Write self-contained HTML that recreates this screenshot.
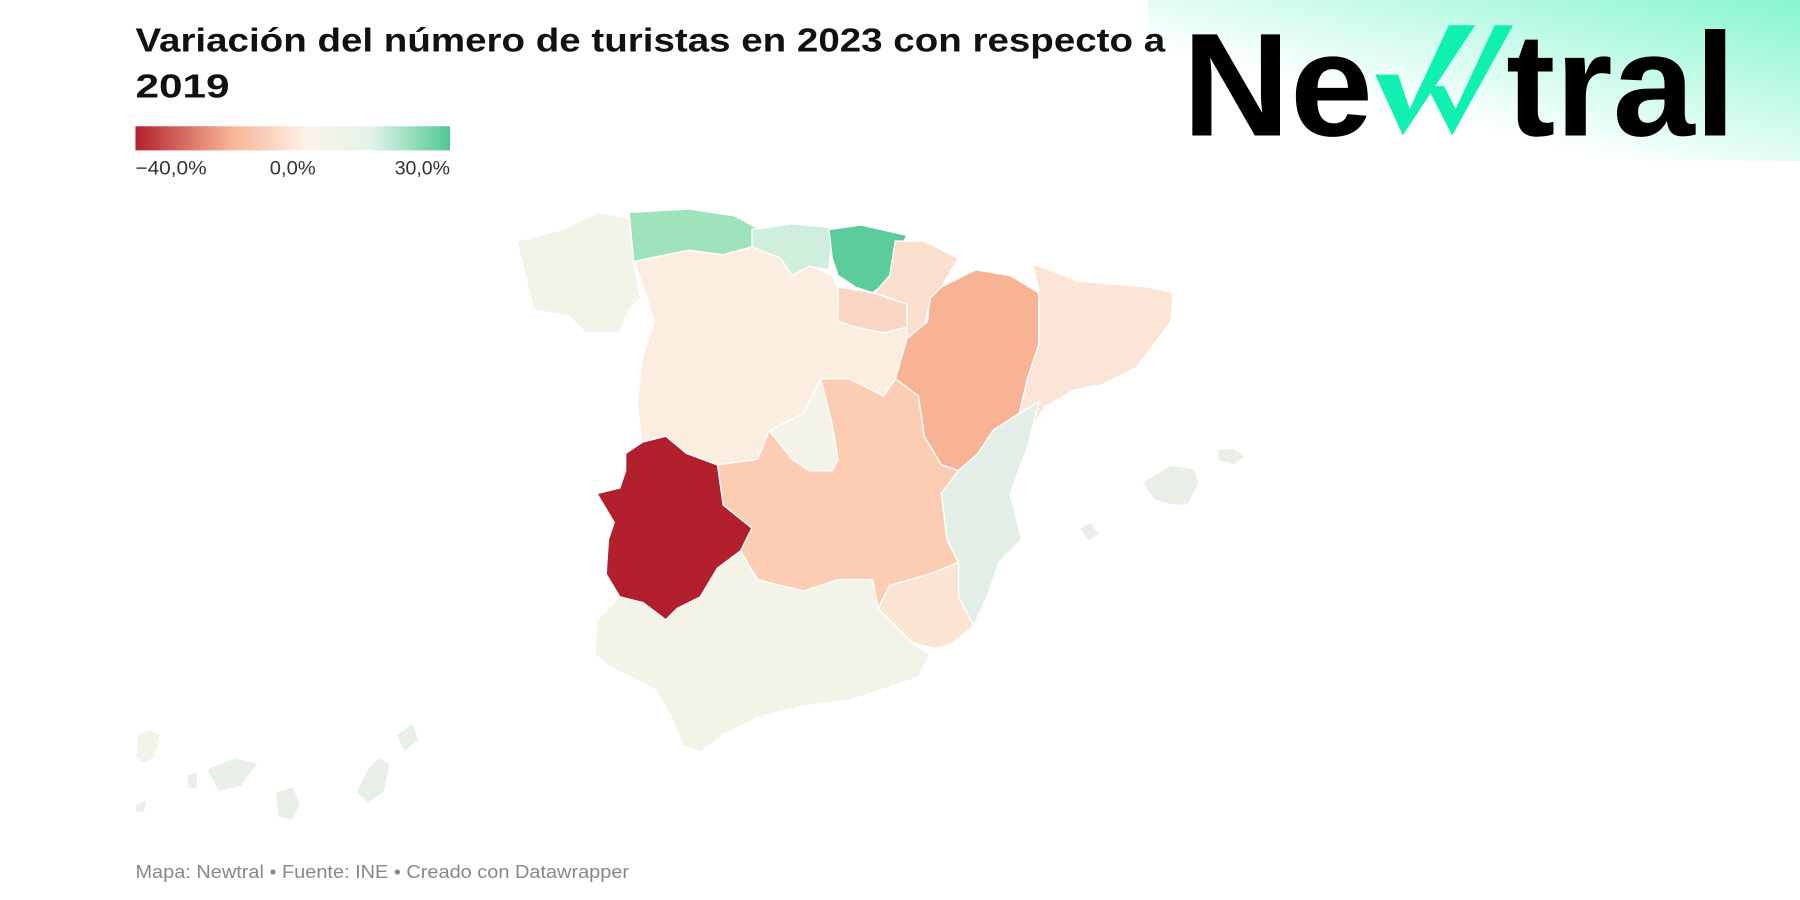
<!DOCTYPE html>
<html><head><meta charset="utf-8"><style>
html,body{margin:0;padding:0;background:#fff;width:1800px;height:900px;overflow:hidden}
svg{display:block}
</style></head><body>
<svg width="1800" height="900" viewBox="0 0 1568 784" xmlns="http://www.w3.org/2000/svg">
<defs>
<linearGradient id="lg" x1="0" x2="1" y1="0" y2="0">
<stop offset="0" stop-color="#b2202d"/><stop offset="0.3" stop-color="#f7b393"/><stop offset="0.55" stop-color="#fbf3ea"/><stop offset="0.75" stop-color="#e3f3e8"/><stop offset="1" stop-color="#4fc896"/>
</linearGradient>
<linearGradient id="bg" x1="0" y1="1" x2="1" y2="0">
<stop offset="0.35" stop-color="#ffffff"/><stop offset="1" stop-color="#86f5d2"/>
</linearGradient>
</defs>
<rect x="1000" y="0" width="568" height="140" fill="url(#bg)"/>
<text x="118" y="45" font-family="Liberation Sans, sans-serif" font-weight="bold" font-size="29" fill="#111" textLength="897" lengthAdjust="spacingAndGlyphs">Variación del número de turistas en 2023 con respecto a</text>
<text x="118" y="85" font-family="Liberation Sans, sans-serif" font-weight="bold" font-size="29" fill="#111" textLength="82" lengthAdjust="spacingAndGlyphs">2019</text>
<rect x="118" y="110" width="274" height="21" fill="url(#lg)"/>
<g font-family="Liberation Sans, sans-serif" font-size="17" fill="#333">
<text x="118" y="152" textLength="62" lengthAdjust="spacingAndGlyphs">−40,0%</text><text x="235" y="152" textLength="40" lengthAdjust="spacingAndGlyphs">0,0%</text><text x="392" y="152" text-anchor="end">30,0%</text>
</g>
<g font-family="Liberation Sans, sans-serif" font-weight="900" font-size="128" fill="#000">
<text x="1030" y="118" textLength="166" lengthAdjust="spacingAndGlyphs">Ne</text>
<text x="1312" y="118" textLength="200" lengthAdjust="spacingAndGlyphs">tral</text>
</g>
<polygon points="1198,65 1218,65 1228,95 1262,22 1285,22 1222,118" fill="#10f0b0"/>
<polygon points="1243,75 1258,75 1268,95 1302,22 1318,22 1265,118" fill="#10f0b0"/>
<g stroke="#fff" stroke-width="1.2">
<polygon fill="#f3f3ea" points="450,210 490,200 520,185 550,190 552,230 558,260 548,270 540,290 510,290 495,275 465,270 460,250 455,230"/>
<polygon fill="#f3f3ea" points="120,640 130,635 140,640 135,660 125,665 118,660"/><polygon fill="#e8efe6" points="180,670 205,660 225,665 210,685 190,690"/><polygon fill="#e8efe6" points="240,690 255,685 262,700 255,715 242,712"/><polygon fill="#e8efe6" points="310,690 320,670 330,660 340,665 335,690 320,700"/><polygon fill="#e8efe6" points="345,640 360,630 365,645 352,655"/><polygon fill="#e8efe6" points="163,675 172,672 172,688 163,686"/><polygon fill="#e8efe6" points="118,700 128,697 126,708 118,708"/>
<polygon fill="#fbeee0" points="552,225 600,215 650,213 690,225 725,240 735,260 790,265 790,300 780,330 770,345 740,345 715,330 700,360 670,375 660,400 625,405 600,395 560,395 555,350 560,310 570,280"/>
<polygon fill="#9fe3bd" points="548,185 600,182 640,188 662,200 655,215 630,222 600,218 565,225 552,228"/>
<polygon fill="#cfeedc" points="655,200 690,195 722,198 725,210 722,235 705,232 690,240 680,225 655,215"/>
<polygon fill="#5ccc9c" points="722,200 750,196 790,205 780,225 775,245 760,255 745,250 730,240 725,225"/>
<polygon fill="#fadfce" points="780,210 805,210 835,225 820,250 808,270 805,290 790,295 790,265 762,255 775,240"/>
<polygon fill="#f9d6c4" points="730,250 760,255 790,265 790,285 770,290 745,285 730,280"/>
<polygon fill="#f7b393" points="820,250 850,235 880,240 905,255 905,300 895,330 888,360 865,375 852,395 835,410 820,405 805,380 800,345 780,330 790,295 808,280 810,260"/>
<polygon fill="#fbe5d6" points="905,255 900,230 940,245 1000,250 1022,255 1020,280 1005,300 990,320 960,335 935,340 910,355 900,370 888,360 895,330 905,300"/>
<polygon fill="#f3f3ea" points="670,375 700,360 715,330 720,345 725,370 730,400 725,410 705,410 690,400"/>
<polygon fill="#fcccb3" points="625,405 660,400 670,375 690,400 705,410 725,410 730,400 725,370 715,330 740,330 770,345 780,330 800,345 805,380 820,405 835,410 820,430 825,470 835,490 810,500 775,510 765,530 760,505 730,505 700,515 660,505 645,480 655,460 630,440"/>
<polygon fill="#e3efe6" points="835,410 852,395 865,375 888,360 905,350 895,390 880,430 890,470 870,490 860,520 848,545 835,520 835,490 825,470 820,430"/>
<polygon fill="#fce4d4" points="775,510 810,500 835,490 835,520 848,545 830,560 815,565 795,560 780,545 765,530"/>
<polygon fill="#b2202d" points="545,395 560,385 580,380 598,395 625,405 630,440 655,460 645,480 625,495 610,520 590,530 580,540 560,525 540,520 528,500 530,470 535,455 520,430 540,425 545,410"/>
<polygon fill="#f3f3e8" points="540,520 560,525 580,540 590,530 610,520 625,495 645,480 660,505 700,515 730,505 760,505 765,530 780,545 795,560 810,570 800,590 770,600 740,610 700,615 660,625 630,640 610,655 595,650 585,625 570,600 550,590 530,580 518,570 520,540"/>
<polygon fill="#e9efe6" points="995,420 1020,405 1040,408 1045,420 1035,440 1020,440 1005,435"/>
<polygon fill="#e9efe6" points="1060,392 1075,390 1085,398 1075,405 1062,402"/>
<polygon fill="#e9efe6" points="940,460 950,455 958,465 948,472"/>
</g>
<text x="118" y="765" font-family="Liberation Sans, sans-serif" font-size="16" fill="#888" textLength="430" lengthAdjust="spacingAndGlyphs">Mapa: Newtral • Fuente: INE • Creado con Datawrapper</text>
</svg>
</body></html>
